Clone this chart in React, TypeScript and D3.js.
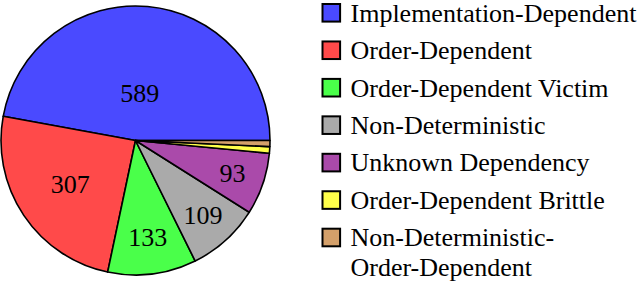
import React from "react";
import * as d3 from "d3";

const categories = [
  "Implementation-Dependent",
  "Order-Dependent",
  "Order-Dependent Victim",
  "Non-Deterministic",
  "Unknown Dependency",
  "Order-Dependent Brittle",
  "Non-Deterministic-Order-Dependent",
];
const legendLines = [
  ["Implementation-Dependent"],
  ["Order-Dependent"],
  ["Order-Dependent Victim"],
  ["Non-Deterministic"],
  ["Unknown Dependency"],
  ["Order-Dependent Brittle"],
  ["Non-Deterministic-", "Order-Dependent"],
];
const counts = [589, 307, 133, 109, 93, 10, 9];
const showLabel = [true, true, true, true, true, false, false];
const colors = ["#4a4aff", "#ff4a4a", "#4aff4a", "#aaaaaa", "#aa4aaa", "#ffff4a", "#d4a06a"];

const W = 640;
const H = 281;
const cx = 135.5;
const cy = 140.5;
const radius = 134.5;
const fontStyle = { fontFamily: "Liberation Serif" };

export default function App() {
  const data = categories.map((c, i) => ({ name: c, value: counts[i], i }));

  // counter-clockwise from 3 o'clock
  const pie = d3
    .pie<any>()
    .sort(null)
    .value((d) => d.value)
    .startAngle(Math.PI / 2)
    .endAngle(Math.PI / 2 - 2 * Math.PI);
  const arcs = pie(data);
  const arc = d3.arc<any>().innerRadius(0).outerRadius(radius);

  const legendY = d3
    .scalePoint<number>()
    .domain(d3.range(categories.length))
    .range([12.8, 237.5]);

  return (
    <svg
      width={W}
      height={H}
      style={{ position: "absolute", left: 0, top: 0, background: "#fff" }}
    >
      <g transform={`translate(${cx},${cy})`}>
        {arcs.map((a, i) => (
          <path key={i} d={arc(a) as string} fill={colors[i]} stroke="#000" strokeWidth={1.6} strokeLinejoin="round" />
        ))}
        {arcs.map((a, i) => {
          if (!showLabel[i]) return null;
          const span = Math.abs(a.endAngle - a.startAngle);
          const mid = (a.startAngle + a.endAngle) / 2;
          // bigger slices have their label pulled toward the centre
          const f = 0.84 - 0.0029 * (span * 180) / Math.PI;
          const r = radius * f;
          return (
            <text
              key={"l" + i}
              x={Math.sin(mid) * r}
              y={-Math.cos(mid) * r}
              textAnchor="middle"
              dominantBaseline="central"
              style={fontStyle}
              fontSize={26}
              fill="#000"
            >
              {counts[i]}
            </text>
          );
        })}
      </g>
      <g>
        {categories.map((c, i) => {
          const y = legendY(i) as number;
          return (
            <g key={c}>
              <rect x={322.5} y={y - 8.8} width={17.6} height={17.6} fill={colors[i]} stroke="#000" strokeWidth={2} />
              {legendLines[i].map((line, j) => (
                <text key={j} x={350.5} y={y + 8.8 + j * 30} style={fontStyle} fontSize={26} fill="#000">
                  {line}
                </text>
              ))}
            </g>
          );
        })}
      </g>
    </svg>
  );
}
